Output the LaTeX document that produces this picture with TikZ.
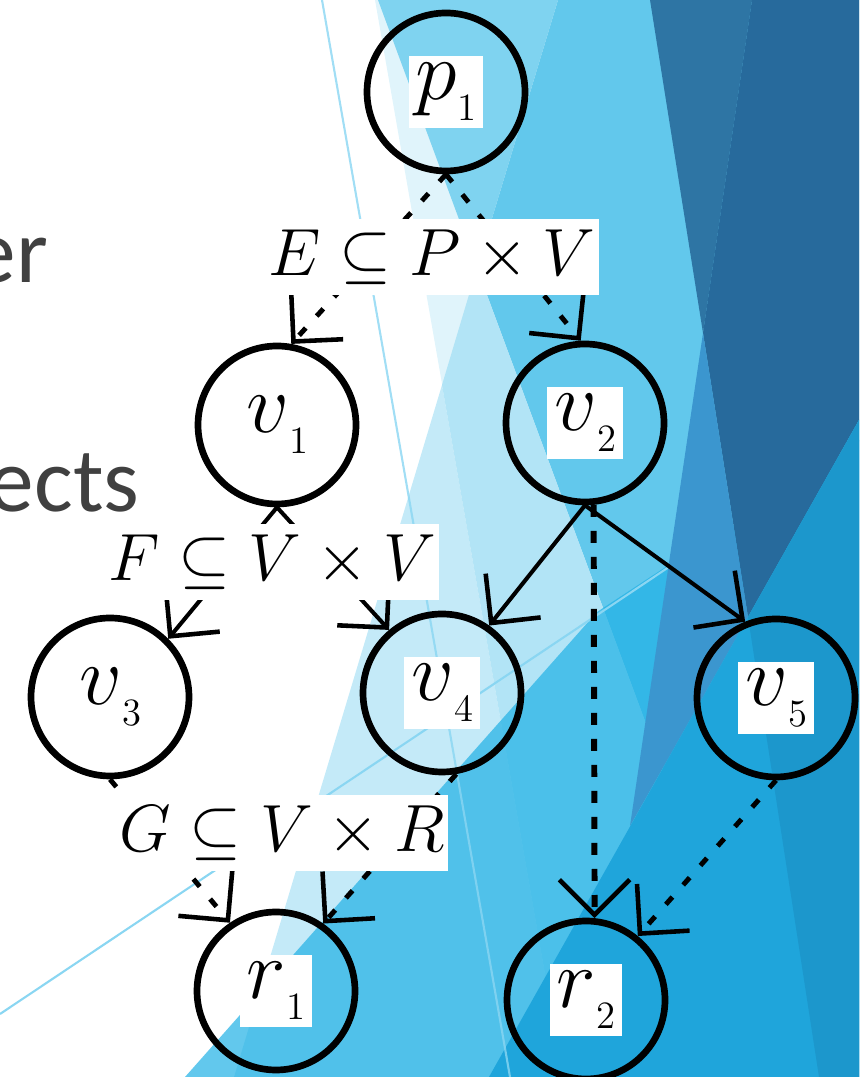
\RequirePackage{fix-cm}
\documentclass[tikz,border=0pt]{standalone}
\usepackage{fontspec}
\newfontfamily\slidefont{Carlito}
\usetikzlibrary{arrows.meta}

\definecolor{facetpale}{HTML}{E0F4FB}
\definecolor{facetsky}{HTML}{62C8EC}
\definecolor{facettop}{HTML}{7FD3F0}
\definecolor{facetlight}{HTML}{C4EAF8}
\definecolor{facetmid}{HTML}{B2E4F6}
\definecolor{facetcyan}{HTML}{20B1E5}
\definecolor{facetsteel}{HTML}{2E75A4}
\definecolor{facetdark}{HTML}{276A9C}
\definecolor{facetblue}{HTML}{3B96CF}
\definecolor{facetdeep}{HTML}{1FA5DB}
\definecolor{facetdeeper}{HTML}{1C97CC}
\definecolor{facetline}{HTML}{8AD6F2}
\definecolor{slidegray}{HTML}{404040}

\setlength{\fboxsep}{2pt}
% letter with a small lowered index, on a white patch
\newcommand{\nodelab}[2]{\colorbox{white}{$#1$\raisebox{-6pt}{\fontsize{11}{11}\selectfont #2}}}

\tikzset{
  vertex/.style={circle, draw, line width=1.9pt, minimum size=1.58cm, inner sep=0pt,
    font=\fontsize{24}{28}\selectfont},
  link/.style={line width=1.15pt, -{Straight Barb[length=10pt,width=20pt,line width=1.3pt]}},
  dotlink/.style={link, line width=1.4pt, dash pattern=on 2.8pt off 4.6pt},
  dashlink/.style={link, line width=1.7pt, dash pattern=on 3.4pt off 4pt},
  rellabel/.style={fill=white, inner xsep=1pt, inner ysep=3pt, font=\fontsize{19}{22}\selectfont},
  slidetext/.style={inner sep=0pt, text=slidegray, font=\slidefont\fontsize{26}{30}\selectfont},
}

\begin{document}
\begin{tikzpicture}
\useasboundingbox (0,0) rectangle (8.59,10.77);
\clip (0,0) rectangle (8.59,10.77);

% background facets
\fill[facetpale] (3.75,10.77) -- (8.59,10.77) -- (8.59,0) -- (5.63,0) -- cycle;
\fill[facetsky] (5.58,10.77) -- (8.59,10.77) -- (8.59,0) -- (7.77,0) -- (4.77,8.09) -- cycle;
\fill[facettop] (3.78,10.77) -- (5.58,10.77) -- (4.77,8.09) -- cycle;
\fill[facetlight] (4.42,6.92) -- (5.63,0) -- (2.34,0) -- cycle;
\fill[facetmid] (4.77,8.09) -- (7.77,0) -- (5.63,0) -- (4.42,6.92) -- cycle;
\fill[facetcyan, fill opacity=.7] (1.85,0) -- (5.97,4.65) -- (8.59,6.37) -- (8.59,0) -- cycle;
\draw[facetline, line width=.6pt] (0,0.63) -- (8.59,6.37);
\fill[facetsteel] (6.50,10.77) -- (7.52,10.77) -- (7.03,7.44) -- cycle;
\fill[facetdark] (7.52,10.77) -- (8.59,10.77) -- (8.59,6.57) -- (7.48,4.60) -- (7.03,7.44) -- cycle;
\fill[facetblue] (7.03,7.44) -- (7.48,4.60) -- (6.30,2.51) -- cycle;
\fill[facetdeep] (7.48,4.60) -- (8.59,6.57) -- (8.59,0) -- (4.89,0) -- cycle;
\fill[facetdeeper] (7.48,4.60) -- (8.59,6.57) -- (8.59,0) -- (8.19,0) -- cycle;
\draw[facetline, line width=.6pt, opacity=.8] (3.22,10.77) -- (5.10,0);

% slide text cut by the left edge
\node[slidetext, anchor=base east] (word1) at (0.49,7.94) {er};
\node[slidetext, anchor=base east] (word2) at (1.40,5.65) {ects};

% vertices
\node[vertex] (p1) at (4.46,9.85) {\nodelab{p}{1}};
\node[vertex] (v1) at (2.77,6.52) {\nodelab{v}{1}};
\node[vertex] (v2) at (5.85,6.54) {\nodelab{v}{2}};
\node[vertex] (v3) at (1.10,3.80) {\nodelab{v}{3}};
\node[vertex] (v4) at (4.42,3.84) {\nodelab{v}{4}};
\node[vertex] (v5) at (7.76,3.79) {\nodelab{v}{5}};
\node[vertex] (r1) at (2.76,0.86) {\nodelab{r}{1}};
\node[vertex] (r2) at (5.86,0.77) {\nodelab{r}{2}};

% edges
\draw[dotlink] (p1.south) -- (v1.80);
\draw[dotlink] (p1.south) -- (v2.93);
\draw[link] (v1.south) -- (v3.45);
\draw[link] (v1.south) -- (v4.130);
\draw[link] (v2.south) -- (v4.55);
\draw[link] (v2.south) -- (v5.112);
\draw[dashlink] (v2.-84) -- (r2.84);
\draw[dotlink] (v3.south) -- (r1.124);
\draw[dotlink] (v4.-80) -- (r1.55);
\draw[dotlink] (v5.south) -- (r2.51);

% relation labels
\node[rellabel] (lblE) at (4.32,8.20) {$E \subseteq P \times V$};
\node[rellabel] (lblF) at (2.72,5.15) {$F \subseteq V \times V$};
\node[rellabel] (lblG) at (2.82,2.44) {$G \subseteq V \times R$};
\end{tikzpicture}
\end{document}
